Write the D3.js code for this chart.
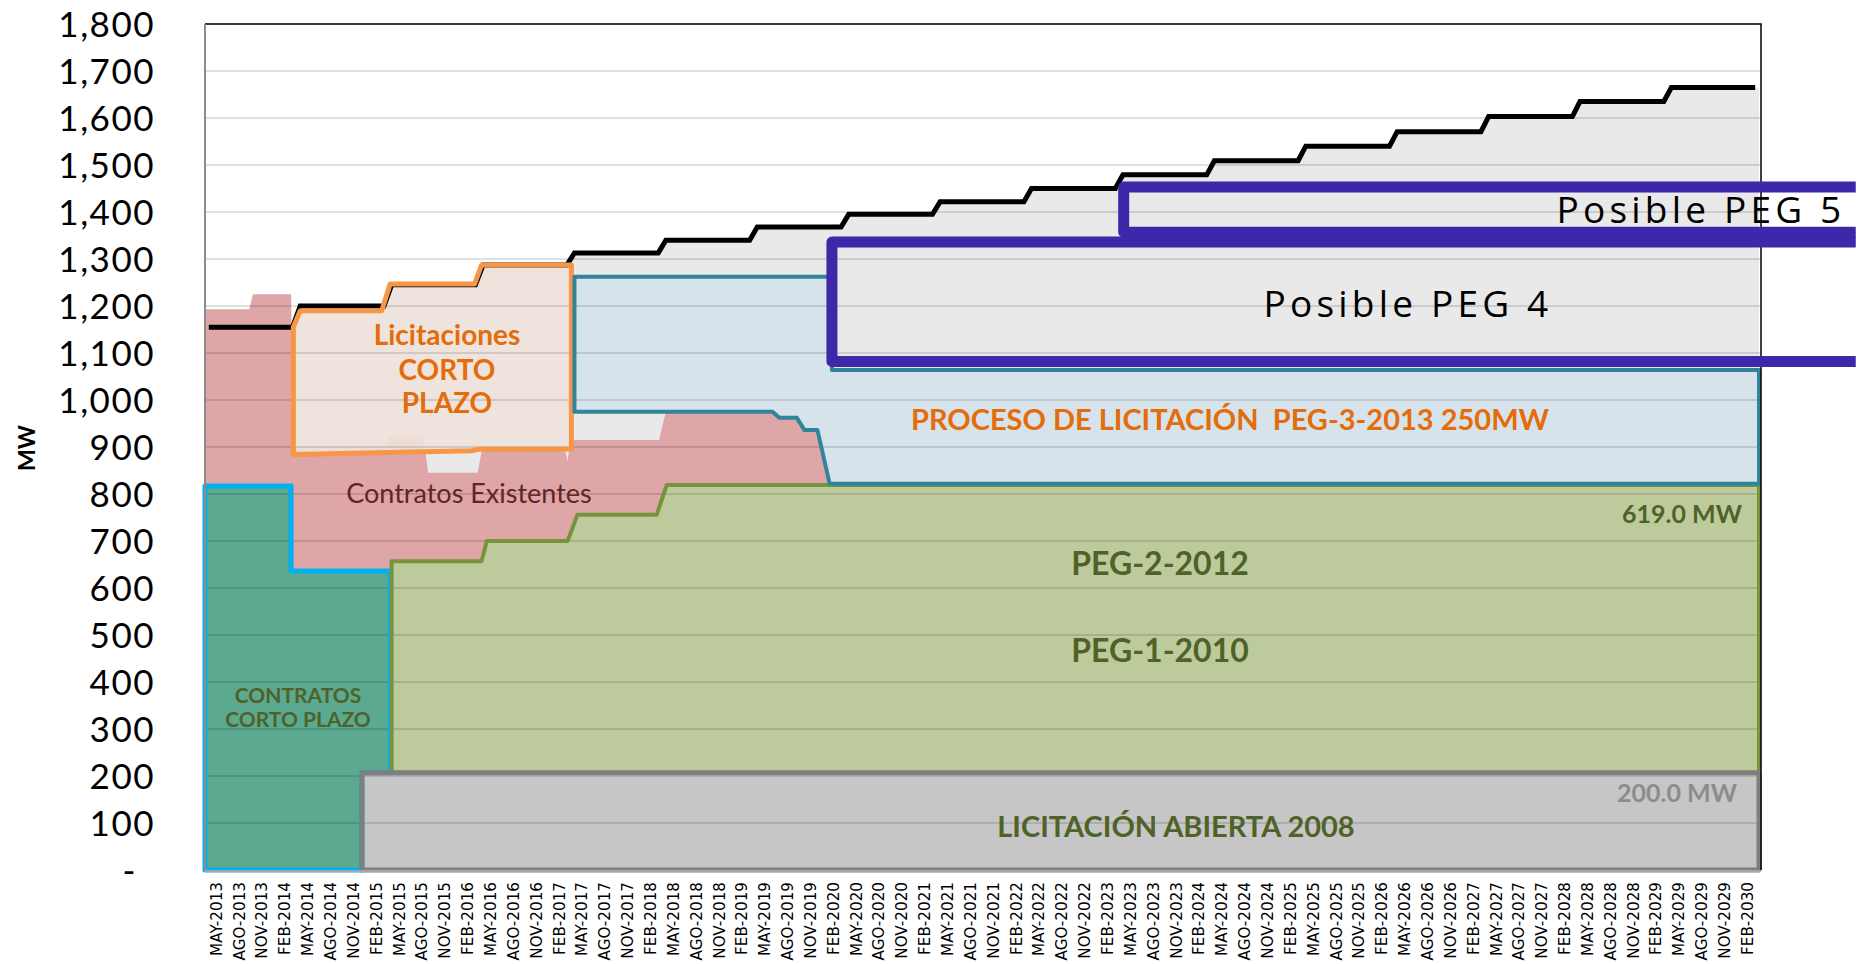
<!DOCTYPE html>
<html>
<head>
<meta charset="utf-8">
<script src="https://cdn.jsdelivr.net/npm/d3@7"></script>
<style>
  body { margin: 0; background: #fff; }
  svg { display: block; }
  text { white-space: pre; }
</style>
</head>
<body>
<svg id="chart" width="1862" height="964"></svg>
<script>

// category axis: quarterly labels, data underneath is monthly (May-2013 .. Apr-2030)
const quarterLabels = [
  'MAY-2013','AGO-2013','NOV-2013',
  'FEB-2014','MAY-2014','AGO-2014','NOV-2014',
  'FEB-2015','MAY-2015','AGO-2015','NOV-2015',
  'FEB-2016','MAY-2016','AGO-2016','NOV-2016',
  'FEB-2017','MAY-2017','AGO-2017','NOV-2017',
  'FEB-2018','MAY-2018','AGO-2018','NOV-2018',
  'FEB-2019','MAY-2019','AGO-2019','NOV-2019',
  'FEB-2020','MAY-2020','AGO-2020','NOV-2020',
  'FEB-2021','MAY-2021','AGO-2021','NOV-2021',
  'FEB-2022','MAY-2022','AGO-2022','NOV-2022',
  'FEB-2023','MAY-2023','AGO-2023','NOV-2023',
  'FEB-2024','MAY-2024','AGO-2024','NOV-2024',
  'FEB-2025','MAY-2025','AGO-2025','NOV-2025',
  'FEB-2026','MAY-2026','AGO-2026','NOV-2026',
  'FEB-2027','MAY-2027','AGO-2027','NOV-2027',
  'FEB-2028','MAY-2028','AGO-2028','NOV-2028',
  'FEB-2029','MAY-2029','AGO-2029','NOV-2029',
  'FEB-2030'
];

const yTicks = [0, 100, 200, 300, 400, 500, 600, 700, 800, 900, 1000, 1100, 1200, 1300, 1400, 1500, 1600, 1700, 1800];

// demand (black line): [first month of step, MW]
const demandSteps = [[0, 1155], [12, 1200], [24, 1245], [36, 1287], [48, 1313], [60, 1340], [72, 1368], [84, 1395],
  [96, 1422], [108, 1450], [120, 1479], [132, 1509], [144, 1540], [156, 1571], [168, 1603], [180, 1635], [192, 1665]];

// region outlines as [month, MW]
const contratosExistentes = [[0, 1193], [5.8, 1193], [6.3, 1225], [11.3, 1225], [11.6, 900], [23.5, 900], [24.3, 925],
  [28.6, 925], [29.3, 845], [35.8, 845], [36.4, 898], [47.2, 898], [47.6, 870], [48, 915], [59.6, 915], [60.5, 975],
  [74.5, 975], [75.4, 962], [77.7, 962], [78.7, 936], [80.4, 936], [82, 822],
  [82, 819], [60.6, 819], [59.3, 756], [48.9, 756], [47.6, 700], [37, 700], [36.3, 657], [24.5, 657], [24.3, 636],
  [11.3, 636], [11.3, 817], [0, 817]];

const contratosCortoPlazo = [[0, 0], [0, 817], [11.3, 817], [11.3, 636], [24.3, 636], [24.3, 207], [20.6, 207], [20.6, 0]];

const peg1y2 = [[24.5, 207], [24.5, 657], [36.3, 657], [37, 700], [47.6, 700], [48.9, 756], [59.3, 756], [60.6, 819],
  [204, 819], [204, 207]];

const licitacionAbierta = [[20.6, 0], [20.6, 207], [204, 207], [204, 0]];

const licitacionesCortoPlazo = [[11.6, 884], [11.6, 1155], [12.5, 1190], [23.2, 1190], [24.3, 1247], [35.4, 1247],
  [36.3, 1287], [48.1, 1287], [48.1, 896], [35.8, 895], [35, 892]];

const peg3 = [[48.5, 975], [48.5, 1262], [82.3, 1262], [82.3, 1064], [204, 1064], [204, 822], [82, 822], [80.4, 936],
  [78.7, 936], [77.7, 962], [75.4, 962], [74.5, 975]];

// possible future tenders: [from month, low MW, high MW]
const posiblePeg4 = [82.3, 1082, 1336];
const posiblePeg5 = [120.6, 1357, 1453];

const svg = d3.select('#chart');
const plotLeft = 205, plotRight = 1759, plotTop = 24, plotBottom = 870;

const x = d3.scaleLinear().domain([0, 204]).range([plotLeft, plotRight]);
const xBand = d3.scaleBand().domain(quarterLabels).range([plotLeft, plotRight]);
const y = d3.scaleLinear().domain([0, 1800]).range([plotBottom, plotTop]);

const line = d3.line().x(d => x(d[0])).y(d => y(d[1]));

// expand steps into line vertices, each change ramps over one month
function stepVertices(steps, lastMonth) {
  let pts = [];
  steps.forEach(function(s, i) {
    let end = i < steps.length - 1 ? steps[i + 1][0] - 1 : lastMonth;
    pts.push([s[0] + 0.5, s[1]], [end + 0.5, s[1]]);
  });
  return pts;
}

const demandLine = stepVertices(demandSteps, 203);
const demandArea = [[0, demandSteps[0][1]]].concat(demandLine, [[204, demandSteps[demandSteps.length - 1][1]], [204, 0], [0, 0]]);

const shapes = [
  { pts: demandArea, fill: '#e9e9e9' },
  { pts: contratosExistentes, fill: '#dea6a6' },
  { pts: contratosCortoPlazo, fill: '#5aa990', stroke: '#00b0f0', sw: 5 },
  { pts: peg1y2, fill: '#bdcb9c', stroke: '#77933c', sw: 4 },
  { pts: licitacionAbierta, fill: '#c6c6c6', stroke: '#7f7f7f', sw: 5 },
  { pts: licitacionesCortoPlazo, fill: '#efe3db', op: 0.9, stroke: '#f79646', sw: 5 },
  { pts: peg3, fill: '#d6e3ea', stroke: '#31849b', sw: 4 }
];

// fills
svg.append('g').selectAll('path').data(shapes).enter().append('path')
  .attr('d', d => line(d.pts) + 'Z')
  .attr('fill', d => d.fill)
  .attr('fill-opacity', d => d.op || 1);

// gridlines over the fills
svg.append('g').selectAll('line').data(yTicks.slice(1)).enter().append('line')
  .attr('x1', plotLeft).attr('x2', plotRight + 2)
  .attr('y1', d => y(d)).attr('y2', d => y(d))
  .attr('stroke', '#000').attr('stroke-opacity', 0.12).attr('stroke-width', 2);

// demand
svg.append('path')
  .attr('d', line(demandLine))
  .attr('fill', 'none').attr('stroke', '#000').attr('stroke-width', 5);

// outlines
svg.append('g').selectAll('path').data(shapes.filter(d => d.stroke)).enter().append('path')
  .attr('d', d => line(d.pts) + 'Z')
  .attr('fill', 'none')
  .attr('stroke', d => d.stroke)
  .attr('stroke-width', d => d.sw)
  .attr('stroke-linejoin', 'round');

// plot frame
svg.append('path')
  .attr('d', 'M' + plotLeft + ',' + y(1800) + 'H' + (plotRight + 2) + 'V' + plotBottom)
  .attr('fill', 'none').attr('stroke', '#000').attr('stroke-width', 1.5);
svg.append('line')
  .attr('x1', plotLeft).attr('x2', plotLeft).attr('y1', y(1800)).attr('y2', plotBottom + 2)
  .attr('stroke', '#8c8c8c').attr('stroke-width', 2);
svg.append('line')
  .attr('x1', plotLeft).attr('x2', plotRight + 2).attr('y1', plotBottom + 1).attr('y2', plotBottom + 1)
  .attr('stroke', '#a6a6a6').attr('stroke-width', 2);

// open boxes for possible PEG 4 / PEG 5 (run off the right side)
[posiblePeg4, posiblePeg5].forEach(function(b) {
  svg.append('path')
    .attr('d', line([[216.7, b[2]], [b[0], b[2]], [b[0], b[1]], [216.7, b[1]]]))
    .attr('fill', 'none').attr('stroke', '#3e27a9').attr('stroke-width', 11)
    .attr('stroke-linejoin', 'round');
});

// y axis
let yAxis = svg.append('g')
  .attr('transform', 'translate(' + plotLeft + ',0)')
  .call(d3.axisLeft(y).tickValues(yTicks).tickSize(0).tickPadding(50)
    .tickFormat(d => d === 0 ? '-' : d3.format(',')(d)));
yAxis.select('.domain').remove();
yAxis.selectAll('text')
  .attr('font-family', 'Lato, sans-serif').attr('font-size', 35).attr('fill', '#000')
  .attr('letter-spacing', 1.5)
  .attr('dy', '0.35em')
  .attr('x', d => d === 0 ? -68 : -50);

svg.append('text')
  .attr('transform', 'translate(35,448) rotate(-90)')
  .attr('text-anchor', 'middle')
  .attr('font-family', 'Lato, sans-serif').attr('font-weight', 'bold').attr('font-size', 23)
  .text('MW');

// x axis
let xAxis = svg.append('g')
  .attr('transform', 'translate(0,' + plotBottom + ')')
  .call(d3.axisBottom(xBand).tickSize(0));
xAxis.select('.domain').remove();
xAxis.selectAll('text')
  .attr('font-family', 'DejaVu Sans, sans-serif').attr('font-size', 15.2).attr('fill', '#000')
  .attr('transform', 'rotate(-90)')
  .attr('x', -12).attr('y', 0).attr('dy', '0.35em')
  .attr('text-anchor', 'end');

// annotations
function label(txt, px, py, opts) {
  svg.append('text')
    .attr('x', px).attr('y', py)
    .attr('text-anchor', opts.anchor || 'middle')
    .attr('font-family', opts.family || 'Lato, sans-serif')
    .attr('font-weight', opts.weight || 'bold')
    .attr('font-size', opts.size)
    .attr('letter-spacing', opts.ls || 0)
    .attr('fill', opts.color)
    .text(txt);
}

const orange = '#e46c0a', olive = '#4f6228';
label('Licitaciones', 447, 345, { size: 28, color: orange });
label('CORTO', 447, 380, { size: 28, color: orange });
label('PLAZO', 447, 413, { size: 28, color: orange });
label('Contratos Existentes', 469, 503, { size: 27, weight: 'normal', color: '#632523' });
label('PROCESO DE LICITACIÓN  PEG-3-2013 250MW', 1230, 430, { size: 29, color: orange });
label('Posible PEG 4', 1408, 317, { size: 37, weight: 'normal', family: 'Open Sans, sans-serif', ls: 4.2, color: '#000' });
label('Posible PEG 5', 1701, 223, { size: 37, weight: 'normal', family: 'Open Sans, sans-serif', ls: 4.2, color: '#000' });
label('619.0 MW', 1742, 523, { size: 25, anchor: 'end', color: olive });
label('PEG-2-2012', 1160, 575, { size: 32, color: olive });
label('PEG-1-2010', 1160, 662, { size: 32, color: olive });
label('200.0 MW', 1737, 802, { size: 25, anchor: 'end', color: '#8c8c8c' });
label('LICITACIÓN ABIERTA 2008', 1176, 837, { size: 29, color: olive });
label('CONTRATOS', 298, 703, { size: 21, color: olive });
label('CORTO PLAZO', 298, 727, { size: 21, color: olive });

</script>
</body>
</html>
